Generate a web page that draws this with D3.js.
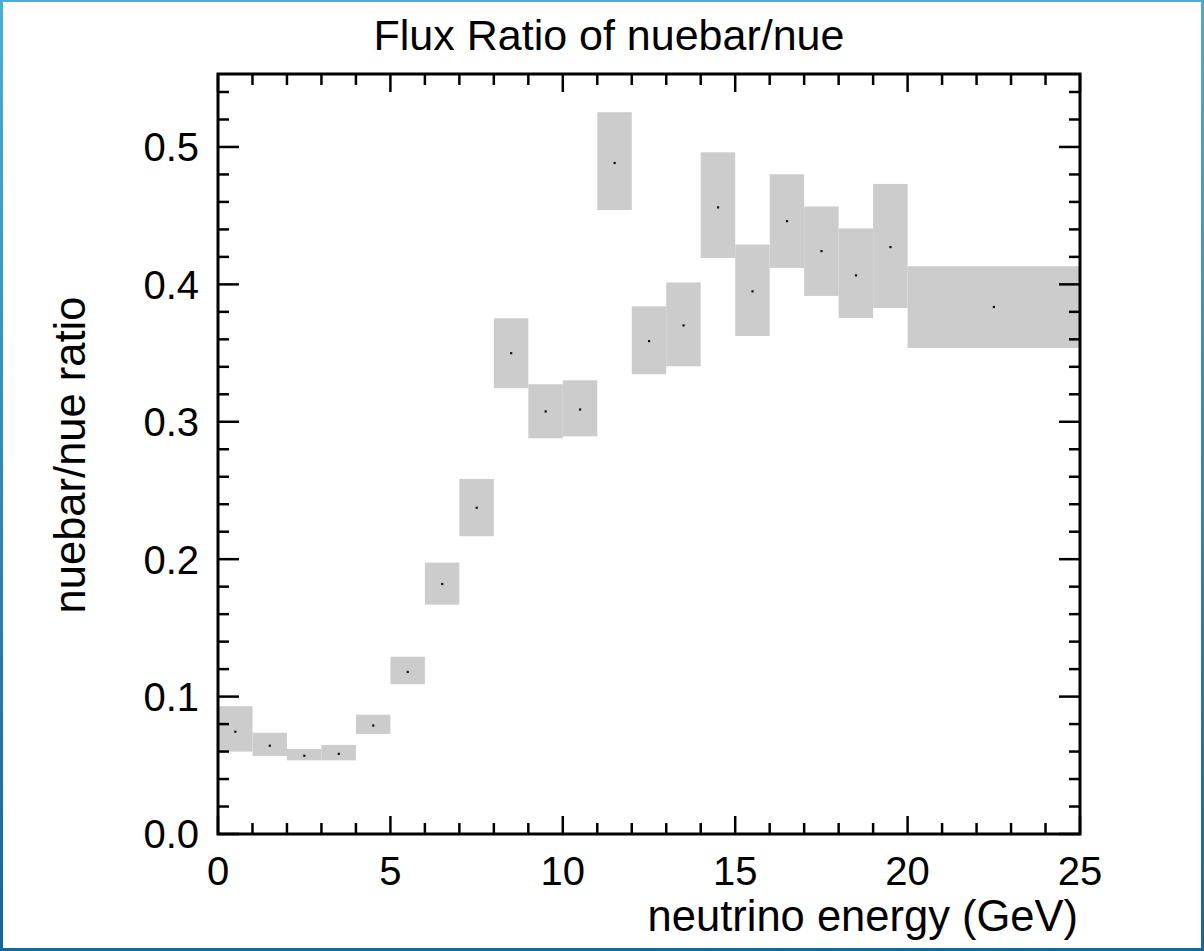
<!DOCTYPE html>
<html>
<head>
<meta charset="utf-8">
<script src="https://cdn.jsdelivr.net/npm/d3@7"></script>
<style>
  html, body { margin: 0; padding: 0; background: #fff; }
  svg { display: block; }
  text { font-family: "Liberation Sans", Arial, Helvetica, sans-serif; fill: #000; }
</style>
</head>
<body>
<div id="chart"></div>
<script>
// bin edges (GeV)
const binLo = [0, 1, 2, 3, 4, 5, 6, 7, 8, 9, 10, 11, 12, 13, 14, 15, 16, 17, 18, 19, 20];
const binHi = [1, 2, 3, 4, 5, 6, 7, 8, 9, 10, 11, 12, 13, 14, 15, 16, 17, 18, 19, 20, 25];
// central ratio and band limits
const ratio = [0.0745, 0.0643, 0.057, 0.0584, 0.079, 0.118, 0.182, 0.2375, 0.350, 0.3076, 0.309,
               0.4884, 0.3588, 0.3702, 0.4561, 0.395, 0.4461, 0.4243, 0.4066, 0.4272, 0.3836];
const bandLow = [0.060, 0.0568, 0.0536, 0.0536, 0.0728, 0.109, 0.1669, 0.2167, 0.3244, 0.288, 0.2894,
                 0.4541, 0.3346, 0.3404, 0.4192, 0.3624, 0.412, 0.3916, 0.3755, 0.3828, 0.3537];
const bandHigh = [0.093, 0.0737, 0.0619, 0.0648, 0.0868, 0.129, 0.1975, 0.2584, 0.3753, 0.3273, 0.3302,
                  0.5253, 0.384, 0.4014, 0.4961, 0.429, 0.4801, 0.4567, 0.4407, 0.4731, 0.4132];
const xTickLabels = [0, 5, 10, 15, 20, 25];
const yTickLabels = [0.0, 0.1, 0.2, 0.3, 0.4, 0.5];

const W = 1204, H = 951;
const plot = { left: 218, right: 1080, top: 74, bottom: 834 };

const svg = d3.select('#chart').append('svg')
  .attr('width', W)
  .attr('height', H);

// blue frame round the picture
const defs = svg.append('defs');
const grad = defs.append('linearGradient')
  .attr('id', 'frameGrad')
  .attr('x1', 0).attr('y1', 0).attr('x2', 0).attr('y2', 1);
grad.append('stop').attr('offset', '0%').attr('stop-color', '#4aaed2');
grad.append('stop').attr('offset', '100%').attr('stop-color', '#16659c');

svg.append('rect')
  .attr('x', 0).attr('y', 0)
  .attr('width', W).attr('height', H)
  .attr('fill', 'url(#frameGrad)');
svg.append('rect')
  .attr('x', 3).attr('y', 2)
  .attr('width', W - 6).attr('height', H - 5)
  .attr('fill', '#fff');

const x = d3.scaleLinear().domain([0, 25]).range([plot.left, plot.right]);
const y = d3.scaleLinear().domain([0, 0.5531]).range([plot.bottom, plot.top]);

const data = binLo.map((lo, i) => ({
  lo, hi: binHi[i], v: ratio[i], low: bandLow[i], high: bandHigh[i]
}));

// error bands
svg.append('g').selectAll('rect')
  .data(data)
  .join('rect')
  .attr('x', d => x(d.lo))
  .attr('width', d => x(d.hi) - x(d.lo))
  .attr('y', d => y(d.high))
  .attr('height', d => y(d.low) - y(d.high))
  .attr('fill', '#cccccc');

// central values
svg.append('g').selectAll('rect')
  .data(data)
  .join('rect')
  .attr('x', d => x((d.lo + d.hi) / 2) - 1)
  .attr('y', d => y(d.v) - 1)
  .attr('width', 2.2)
  .attr('height', 2.2)
  .attr('fill', '#111');

// ticks on all four sides, pointing inwards
const ticks = svg.append('g')
  .attr('stroke', '#000')
  .attr('stroke-width', 2.5);

const xMinor = d3.range(0, 26, 1);
xMinor.forEach(t => {
  const len = t % 5 === 0 ? 18 : 11;
  const px = x(t);
  ticks.append('line').attr('x1', px).attr('x2', px)
    .attr('y1', plot.bottom).attr('y2', plot.bottom - len);
  ticks.append('line').attr('x1', px).attr('x2', px)
    .attr('y1', plot.top).attr('y2', plot.top + len);
});

const yMinor = d3.range(0, 28).map(i => i * 0.02);
yMinor.forEach((t, i) => {
  const len = i % 5 === 0 ? 21 : 11;
  const py = y(t);
  ticks.append('line').attr('x1', plot.left).attr('x2', plot.left + len)
    .attr('y1', py).attr('y2', py);
  ticks.append('line').attr('x1', plot.right).attr('x2', plot.right - len)
    .attr('y1', py).attr('y2', py);
});

// frame
svg.append('rect')
  .attr('x', plot.left).attr('y', plot.top)
  .attr('width', plot.right - plot.left)
  .attr('height', plot.bottom - plot.top)
  .attr('fill', 'none')
  .attr('stroke', '#000')
  .attr('stroke-width', 3);

// tick labels
svg.append('g').selectAll('text')
  .data(xTickLabels)
  .join('text')
  .attr('x', d => x(d))
  .attr('y', 885)
  .attr('text-anchor', 'middle')
  .style('font-size', '40px')
  .text(d => d);

svg.append('g').selectAll('text')
  .data(yTickLabels)
  .join('text')
  .attr('x', 199)
  .attr('y', d => y(d))
  .attr('dy', '0.36em')
  .attr('text-anchor', 'end')
  .style('font-size', '40px')
  .text(d => d3.format('.1f')(d));

// titles
svg.append('text')
  .attr('x', 609)
  .attr('y', 50)
  .attr('text-anchor', 'middle')
  .style('font-size', '43px')
  .text('Flux Ratio of nuebar/nue');

svg.append('text')
  .attr('x', 1078)
  .attr('y', 931)
  .attr('text-anchor', 'end')
  .style('font-size', '43.5px')
  .text('neutrino energy (GeV)');

svg.append('text')
  .attr('transform', 'translate(85, 455) rotate(-90)')
  .attr('text-anchor', 'middle')
  .style('font-size', '43.5px')
  .text('nuebar/nue ratio');
</script>
</body>
</html>
